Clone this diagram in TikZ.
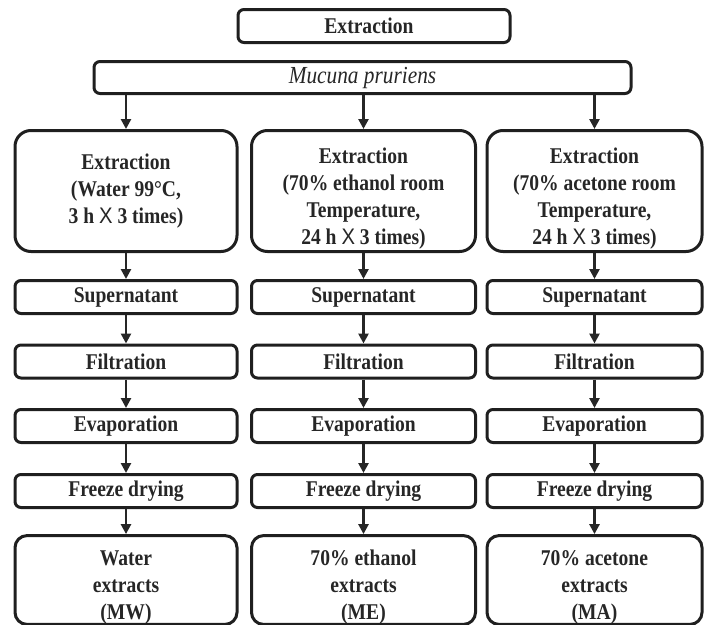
\documentclass[tikz,border=0pt]{standalone}
\usepackage{fontspec}
\setmainfont{Liberation Serif}[FakeStretch=0.87]
\newfontfamily\xfont{Liberation Sans}[FakeStretch=0.9]
\usetikzlibrary{arrows.meta,positioning,calc}

\begin{document}
\begin{tikzpicture}[
  x=1pt,y=-1pt,
  font=\fontsize{22.5}{27}\selectfont\bfseries,
  box/.style={draw=black!88,line width=3pt,rounded corners=6pt,inner sep=0pt,
              text=black!85,align=center,minimum height=33pt},
  bigbox/.style={box,rounded corners=16pt},
  flow/.style={line width=2.6pt,draw=black!85,-{Triangle[length=10pt,width=10pt]}}
]
\useasboundingbox (0,0) rectangle (704,624);

% lowers a block of lines a little inside its box
\newcommand{\lowr}[1]{\rule{0pt}{#1}}

% ================= head =================
\node[box,minimum width=272pt] (top) at (374,26) {\hspace*{-10pt}Extraction};
\node[box,minimum width=537pt,minimum height=32pt] (src) at (362.5,77.5)
  {\fontsize{24.5}{27}\selectfont\mdseries\itshape Mucuna pruriens};

% ================= water column =================
\begin{scope}[xshift=126pt]
  \node[bigbox,minimum width=222pt,minimum height=121pt] (wext) at (0,191)
    {Extraction\\(Water 99°C,\\3 h {\xfont\mdseries X} 3 times)};
  \node[box,minimum width=222pt] (wsup) at (0,297)   {Supernatant};
  \node[box,minimum width=222pt] (wfil) at (0,361.5) {Filtration};
  \node[box,minimum width=222pt] (weva) at (0,426)   {Evaporation};
  \node[box,minimum width=222pt] (wfrz) at (0,491)   {Freeze drying};
  \node[bigbox,rounded corners=12pt,minimum width=222pt,minimum height=83pt] (wres) at (0,580)
    {\lowr{30pt}Water\\extracts\\(MW)};
\end{scope}

% ================= ethanol column =================
\begin{scope}[xshift=363.5pt]
  \node[bigbox,minimum width=224pt,minimum height=121pt] (eext) at (0,191)
    {\lowr{30pt}Extraction\\(70\% ethanol room\\Temperature,\\24 h {\xfont\mdseries X} 3 times)};
  \node[box,minimum width=224pt] (esup) at (0,297)   {Supernatant};
  \node[box,minimum width=224pt] (efil) at (0,361.5) {Filtration};
  \node[box,minimum width=224pt] (eeva) at (0,426)   {Evaporation};
  \node[box,minimum width=224pt] (efrz) at (0,491)   {Freeze drying};
  \node[bigbox,rounded corners=12pt,minimum width=224pt,minimum height=83pt] (eres) at (0,580)
    {\lowr{30pt}70\% ethanol\\extracts\\(ME)};
\end{scope}

% ================= acetone column =================
\begin{scope}[xshift=594.5pt]
  \node[bigbox,minimum width=215pt,minimum height=121pt] (aext) at (0,191)
    {\lowr{30pt}Extraction\\(70\% acetone room\\Temperature,\\24 h {\xfont\mdseries X} 3 times)};
  \node[box,minimum width=215pt] (asup) at (0,297)   {Supernatant};
  \node[box,minimum width=215pt] (afil) at (0,361.5) {Filtration};
  \node[box,minimum width=215pt] (aeva) at (0,426)   {Evaporation};
  \node[box,minimum width=215pt] (afrz) at (0,491)   {Freeze drying};
  \node[bigbox,rounded corners=12pt,minimum width=215pt,minimum height=83pt] (ares) at (0,580)
    {\lowr{30pt}70\% acetone\\extracts\\(MA)};
\end{scope}

% ================= arrows =================
\draw[flow] (src.south -| wext.north) -- (wext.north);
\draw[flow] (src.south -| eext.north) -- (eext.north);
\draw[flow] (src.south -| aext.north) -- (aext.north);

\draw[flow] (wext) -- (wsup); \draw[flow] (wsup) -- (wfil);
\draw[flow] (wfil) -- (weva); \draw[flow] (weva) -- (wfrz);
\draw[flow] (wfrz) -- (wres);

\draw[flow] (eext) -- (esup); \draw[flow] (esup) -- (efil);
\draw[flow] (efil) -- (eeva); \draw[flow] (eeva) -- (efrz);
\draw[flow] (efrz) -- (eres);

\draw[flow] (aext) -- (asup); \draw[flow] (asup) -- (afil);
\draw[flow] (afil) -- (aeva); \draw[flow] (aeva) -- (afrz);
\draw[flow] (afrz) -- (ares);

\end{tikzpicture}
\end{document}
